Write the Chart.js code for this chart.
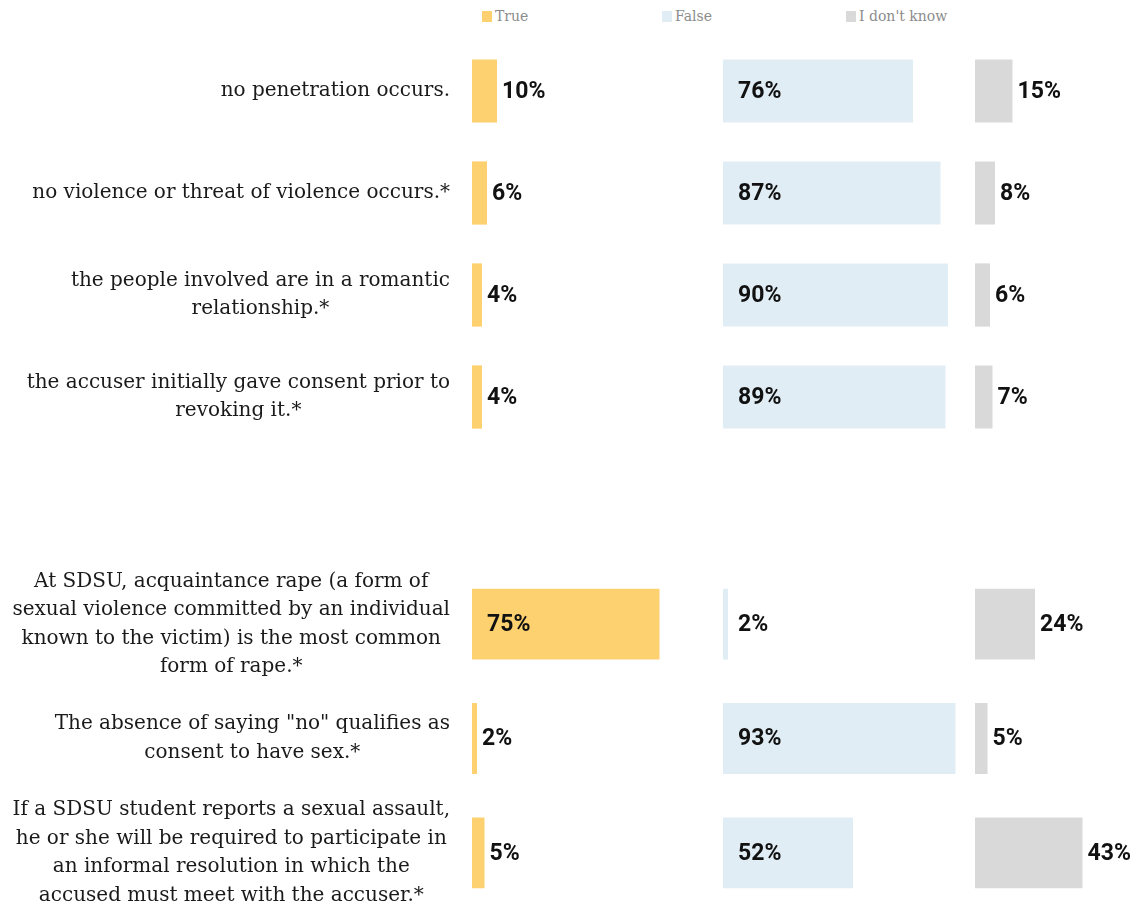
<!DOCTYPE html>
<html><head><meta charset="utf-8">
<script src="https://cdn.jsdelivr.net/npm/chart.js@4"></script>
<style>
html,body{margin:0;padding:0;background:#fff;}
body{width:1134px;height:909px;overflow:hidden;position:relative;}
.box{position:absolute;}
.leg{position:absolute;top:6px;height:20px;font:14px "DejaVu Serif";color:#8c8c8c;display:flex;align-items:center;white-space:nowrap;}
.leg i{display:inline-block;width:10px;height:11px;margin-right:3px;}
</style></head><body>
<div id="legend"></div>
<div class="box" style="left:0;top:40px;width:722px;height:408px"><canvas id="tTrue"></canvas></div>
<div class="box" style="left:723px;top:40px;width:250px;height:408px"><canvas id="tFalse"></canvas></div>
<div class="box" style="left:975px;top:40px;width:250px;height:408px"><canvas id="tIdk"></canvas></div>
<div class="box" style="left:0;top:567px;width:722px;height:343px"><canvas id="bTrue"></canvas></div>
<div class="box" style="left:723px;top:567px;width:250px;height:343px"><canvas id="bFalse"></canvas></div>
<div class="box" style="left:975px;top:567px;width:250px;height:343px"><canvas id="bIdk"></canvas></div>
<script>
// ---- data ----
const seriesNames = ["True", "False", "I don't know"];
const seriesColors = ["#FED170", "#E1EDF4", "#D9D9D9"];

const topCategories = [
  ["no penetration occurs."],
  ["no violence or threat of violence occurs.*"],
  ["the people involved are in a romantic", "relationship.*"],
  ["the accuser initially gave consent prior to", "revoking it.*"]
];
const topTrue  = [10, 6, 4, 4];
const topFalse = [76, 87, 90, 89];
const topIdk   = [15, 8, 6, 7];

const bottomCategories = [
  ["At SDSU, acquaintance rape (a form of", "sexual violence committed by an individual", "known to the victim) is the most common", "form of rape.*"],
  ["The absence of saying \"no\" qualifies as", "consent to have sex.*"],
  ["If a SDSU student reports a sexual assault,", "he or she will be required to participate in", "an informal resolution in which the", "accused must meet with the accuser.*"]
];
const bottomTrue  = [75, 2, 5];
const bottomFalse = [2, 93, 52];
const bottomIdk   = [24, 5, 43];

// ---- legend ----
const legendLeft = [482, 662, 846];
const legend = document.getElementById('legend');
seriesNames.forEach((n, i) => {
  const d = document.createElement('div');
  d.className = 'leg';
  d.style.left = legendLeft[i] + 'px';
  const sw = document.createElement('i');
  sw.style.background = seriesColors[i];
  d.appendChild(sw);
  d.appendChild(document.createTextNode(n));
  legend.appendChild(d);
});

// ---- plugins ----
function valuePlugin(fixedInside) {
  return {
    id: 'valueLabels',
    afterDatasetsDraw(chart) {
      const ctx = chart.ctx;
      const meta = chart.getDatasetMeta(0);
      const vals = chart.data.datasets[0].data;
      ctx.save();
      ctx.font = 'bold 23px Roboto';
      ctx.fillStyle = '#111';
      ctx.textBaseline = 'middle';
      ctx.textAlign = 'left';
      meta.data.forEach((bar, i) => {
        const v = vals[i];
        const inside = fixedInside || v > 50;
        const x = inside ? bar.base + 15 : bar.x + 5;
        ctx.fillText(v + '%', x, bar.y + 1);
      });
      ctx.restore();
    }
  };
}
function rowLabelPlugin(cats, rightEdge) {
  return {
    id: 'rowLabels',
    afterDraw(chart) {
      const ctx = chart.ctx;
      const ys = chart.scales.y;
      ctx.save();
      ctx.font = '20px "DejaVu Serif"';
      ctx.fillStyle = '#1a1a1a';
      ctx.textAlign = 'center';
      ctx.textBaseline = 'middle';
      const lh = 28.5;
      cats.forEach((lines, i) => {
        const w = Math.max(...lines.map(l => ctx.measureText(l).width));
        const cx = rightEdge - w / 2;
        const cy = ys.getPixelForValue(i);
        lines.forEach((l, j) => ctx.fillText(l, cx, cy + (j - (lines.length - 1) / 2) * lh));
      });
      ctx.restore();
    }
  };
}

function makeChart(id, cats, values, color, opt) {
  const plugins = [valuePlugin(!!opt.fixed)];
  if (opt.rowLabels) plugins.push(rowLabelPlugin(cats, 450));
  return new Chart(document.getElementById(id), {
    type: 'bar',
    data: {
      labels: cats.map(l => l.join(' ')),
      datasets: [{ data: values, backgroundColor: color, borderWidth: 0, barPercentage: 0.62, categoryPercentage: 1 }]
    },
    options: {
      indexAxis: 'y',
      responsive: true,
      maintainAspectRatio: false,
      animation: false,
      events: [],
      layout: { padding: { left: opt.padLeft || 0, right: 0, top: 0, bottom: 0 } },
      scales: {
        x: { display: false, min: 0, max: 100 },
        y: { display: false }
      },
      plugins: { legend: { display: false }, tooltip: { enabled: false } }
    },
    plugins
  });
}

makeChart('tTrue', topCategories, topTrue, seriesColors[0], { padLeft: 472, rowLabels: true });
makeChart('tFalse', topCategories, topFalse, seriesColors[1], { fixed: true });
makeChart('tIdk', topCategories, topIdk, seriesColors[2], {});
makeChart('bTrue', bottomCategories, bottomTrue, seriesColors[0], { padLeft: 472, rowLabels: true });
makeChart('bFalse', bottomCategories, bottomFalse, seriesColors[1], { fixed: true });
makeChart('bIdk', bottomCategories, bottomIdk, seriesColors[2], {});
</script>
</body></html>
